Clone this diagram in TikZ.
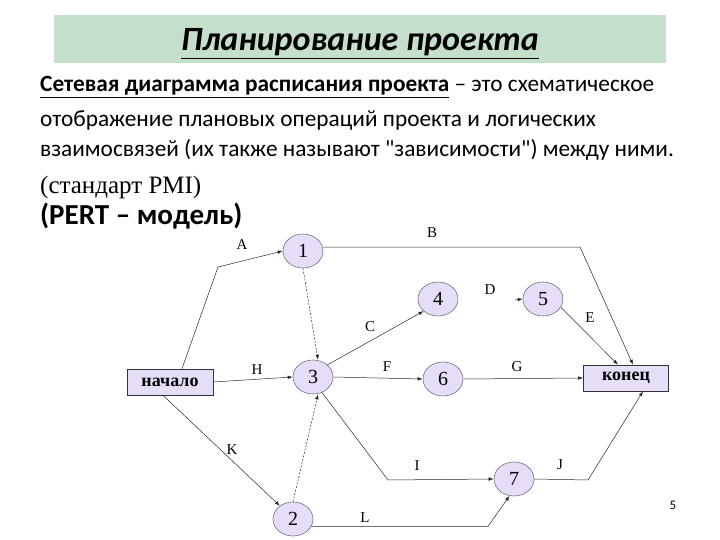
\documentclass[tikz,border=0pt]{standalone}
\usepackage{fontspec}
\setmainfont{Carlito}[Ligatures=TeXOff]
\newfontfamily\serifff{Liberation Serif}
\usetikzlibrary{shapes.geometric,arrows.meta}
\definecolor{bandgreen}{RGB}{196,224,202}
\definecolor{lav}{RGB}{230,222,248}
\definecolor{lavline}{RGB}{120,110,130}
\begin{document}
\begin{tikzpicture}[x=1pt,y=-1pt,
  evt/.style={ellipse,draw=lavline,fill=lav,line width=0.6pt,minimum width=40pt,minimum height=34pt,inner sep=0pt,font=\serifff\fontsize{20}{20}\selectfont},
  term/.style={rectangle,draw=black!80,fill=lav,line width=0.6pt,minimum width=86pt,minimum height=26pt,inner sep=0pt,font=\serifff\bfseries\fontsize{18}{18}\selectfont},
  act/.style={draw=black!85,line width=0.5pt,-{Latex[length=5pt,width=3.5pt]}},
  dum/.style={act,dash pattern=on 2pt off 1.5pt},
  lab/.style={font=\serifff\fontsize{15}{15}\selectfont,inner sep=0pt},
  body/.style={anchor=base west,inner sep=0pt,font=\fontsize{23.3}{23.3}\selectfont}]
\useasboundingbox (0,0) rectangle (720,540);
% title band
\fill[bandgreen] (54,15) rectangle (666,63);
\node[anchor=base,inner sep=0pt,font=\bfseries\itshape\fontsize{34}{34}\selectfont] (title) at (360,51) {\underline{Планирование проекта}};
% body text
\node[body] (l1) at (40,92) {\textbf{\underline{Сетевая диаграмма расписания проекта}} – это схематическое};
\node[body] (l2) at (40,126.5) {отображение плановых операций проекта и логических};
\node[body] (l3) at (40,157) {взаимосвязей (их также называют "зависимости") между ними.};
\node[anchor=base west,inner sep=0pt,font=\serifff\fontsize{25}{25}\selectfont] (l4) at (40,194) {(стандарт PMI)};
\node[anchor=base west,inner sep=0pt,font=\bfseries\fontsize{29}{29}\selectfont] (l5) at (40,225) {(PERT – модель)};
% nodes
\node[term] (start) at (170,382) {начало};
\node[term,minimum width=85pt] (end) at (626,378) {конец};
\node[evt] (n1) at (303,251) {1};
\node[evt] (n2) at (293,519) {2};
\node[evt] (n3) at (313,377) {3};
\node[evt] (n4) at (438,299) {4};
\node[evt] (n5) at (543,299) {5};
\node[evt] (n6) at (443,379) {6};
\node[evt] (n7) at (514,479) {7};
% bend points
\coordinate (cA) at (218,267);
\coordinate (cB) at (580,247);
\coordinate (cI) at (388,480);
\coordinate (cJ) at (588,480);
\coordinate (cL) at (488,525);
\coordinate (cD) at (515,300);
% connectors
\draw[act] ([xshift=12pt]start.north) -- (cA) -- (n1.west);
\draw[act] (n1.east |- cB) -- (cB) -- ([xshift=7pt]end.north);
\draw[act] (n3.40) -- (n4.220);
\draw[act] (cD) -- (n5.west);
\draw[act] (n5.-25) -- ([xshift=-8pt]end.north);
\draw[act] (n3.east) -- (n6.west);
\draw[act] (n6.east) -- (end.west);
\draw[act] (start.east) -- (n3.west);
\draw[act] (n3.-60) -- (cI) -- (n7.west);
\draw[act] (n7.east) -- (cJ) -- ([xshift=17pt]end.south);
\draw[act] ([xshift=-7pt]start.south) -- (n2.135);
\draw[act] (n2.-22) -- (n2.-22 -| cL) -- (n7.-105);
\draw[dum] (n1.south) -- ([xshift=5pt]n3.north);
\draw[dum] (n2.north) -- ([xshift=5pt]n3.south);
% labels
\node[lab] (lA) at (242,245) {A};
\node[lab] (lB) at (432,233) {B};
\node[lab] (lC) at (370,327) {C};
\node[lab] (lD) at (490,290) {D};
\node[lab] (lE) at (590,318) {E};
\node[lab] (lF) at (387,367) {F};
\node[lab] (lG) at (517,367) {G};
\node[lab] (lH) at (257,370) {H};
\node[lab] (lI) at (417,466) {I};
\node[lab] (lJ) at (560,465) {J};
\node[lab] (lK) at (232,450) {K};
\node[lab] (lL) at (365,518) {L};
\node[inner sep=0pt,font=\fontsize{13}{13}\selectfont] (pg) at (673,505) {5};
\end{tikzpicture}
\end{document}
